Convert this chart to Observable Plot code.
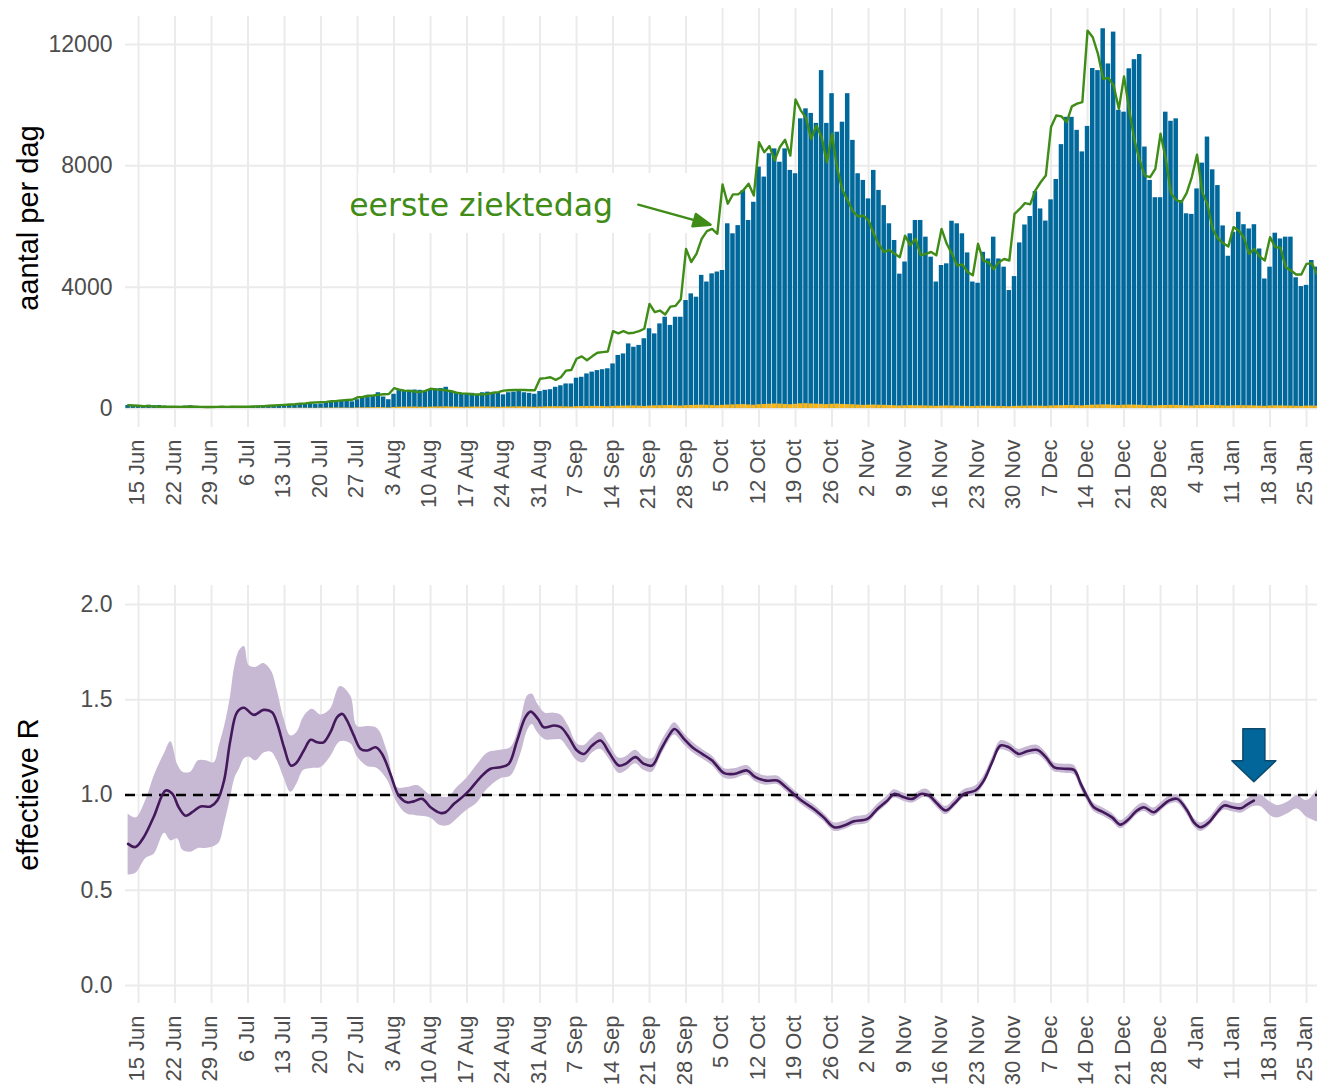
<!DOCTYPE html>
<html>
<head>
<meta charset="utf-8">
<script src="https://cdn.jsdelivr.net/npm/d3@7"></script>
<script src="https://cdn.jsdelivr.net/npm/@observablehq/plot@0.6"></script>
<style>
  html, body { margin: 0; padding: 0; background: #fff; overflow: hidden; }
  #chart svg { display: block; }
</style>
</head>
<body>
<div id="chart"></div>
<script>
// ---------------- DATA ----------------
// daily series start at 13 Jun 2020 (index 0) and run to 27 Jan 2021 (index 228)
const startDay = "2020-06-13";

// reported positive tests per day (blue bars)
const reported = [
  100, 80,
  70, 80, 110, 90, 100, 80, 60,
  50, 70, 80, 90, 70, 60, 50,
  40, 60, 70, 60, 70, 50, 40,
  50, 70, 80, 90, 100, 80, 70,
  90, 120, 130, 140, 160, 150, 130,
  150, 190, 200, 220, 260, 240, 220,
  290, 340, 360, 420, 520, 380, 290,
  470, 590, 590, 600, 610, 600, 560,
  620, 650, 660, 700, 560, 500, 480,
  470, 500, 450, 520, 540, 490, 520,
  450, 520, 540, 560, 520, 500, 470,
  560, 600, 620, 700, 750, 810, 810,
  1000, 1030, 1140, 1200, 1250, 1280, 1310,
  1470, 1750, 1800, 2130, 2020, 2080, 2300,
  2630, 2460, 2790, 3010, 2740, 3010, 3010,
  3560, 3780, 3670, 4390, 4170, 4440, 4500,
  4550, 6090, 5760, 6030, 7190, 6200, 6800,
  7960, 7630, 8400, 8560, 8120, 8560, 7850,
  7740, 9550, 9880, 9730, 9400, 11140, 9400,
  10380, 9110, 9440, 10380, 8840, 7740, 7520,
  6910, 7850, 7190, 6690, 6090, 5540, 4430,
  4830, 5760, 6200, 6200, 5650, 4990, 4170,
  4715, 4770, 6175, 6090, 5760, 5130, 4170,
  4130, 5150, 4930, 5650, 4930, 4660, 3890,
  4350, 5460, 6050, 6330, 7150, 6580, 6180,
  6880, 7550, 8700, 9600, 9600, 9170, 8460,
  9300, 11210, 11140, 12520, 11360, 12410, 9830,
  9770, 11200, 11500, 11670, 8620, 7520, 6950,
  6950, 9770, 9470, 9550, 6860, 6420, 6400,
  7240, 8090, 8950, 7870, 7350, 6020, 5020,
  5810, 6470, 6060, 5920, 6060, 5260, 4270,
  4660, 5780, 5590, 5650, 5650, 4310, 4020,
  4060, 4880, 4660
];

// by first day of illness (green line)
const firstIllness = [
  110, 100,
  90, 80, 80, 70, 60, 60, 60,
  60, 55, 60, 65, 60, 55, 50,
  50, 55, 60, 55, 60, 60, 60,
  60, 65, 70, 80, 90, 100, 110,
  120, 130, 140, 160, 170, 190, 200,
  210, 220, 240, 250, 270, 280, 290,
  370, 380, 420, 430, 450, 470, 480,
  670, 620, 590, 580, 560, 540, 580,
  650, 630, 620, 600, 570, 520, 500,
  490, 470, 460, 470, 480, 520, 540,
  590, 600, 610, 615, 610, 600, 600,
  980, 1000, 1030, 945, 1030, 1250, 1270,
  1640, 1720, 1590, 1720, 1840, 1860, 1880,
  2550, 2480, 2550, 2480, 2500, 2550, 2630,
  3450, 3180, 3230, 3100, 3360, 3385, 3600,
  5260, 4830, 5100, 5590, 5850, 5920, 5760,
  7385, 6750, 7060, 7060, 7200, 7410, 7020,
  8780, 8450, 8650, 8180, 8620, 8860, 8340,
  10190, 9830, 9580, 8890, 9330, 8940, 8120,
  9060, 7900, 7200, 6860, 6500, 6330, 6360,
  6200, 5760, 5400, 5160, 5230, 5100, 4990,
  5700, 5380, 5600, 5050, 5100, 5160, 5050,
  5920, 5430, 5100, 4710, 4750, 4500, 4390,
  5430, 4880, 4820, 4600, 4820, 4930, 4880,
  6420, 6580, 6770, 6730, 7190, 7460, 7680,
  9280, 9660, 9630, 9440, 9960, 10050, 10100,
  12460, 12240, 11690, 10870, 10900, 10650, 9880,
  10950, 9830, 8840, 8180, 7680, 7630, 7900,
  9060, 8230, 7080, 6880, 6800, 7100, 7630,
  8370, 7130, 6730, 5920, 5600, 5450, 5340,
  5980, 5870, 5630, 5100, 5260, 5010, 4880,
  5650, 5320, 5300, 4660, 4550, 4420, 4420,
  4770, 4790, 4440
];

// small yellow series at the base of the bars
const yellowPart = [
  6, 5,
  5, 6, 4, 5, 6, 4, 3,
  4, 5, 6, 5, 4, 3, 3,
  3, 4, 5, 4, 5, 3, 3,
  4, 6, 5, 7, 6, 5, 4,
  8, 10, 9, 12, 11, 10, 8,
  12, 14, 15, 18, 16, 15, 12,
  18, 22, 25, 28, 30, 26, 20,
  35, 42, 45, 48, 50, 44, 38,
  45, 50, 52, 55, 50, 46, 40,
  42, 48, 50, 52, 50, 45, 40,
  45, 50, 52, 55, 52, 48, 42,
  50, 55, 58, 60, 62, 55, 50,
  60, 65, 68, 70, 72, 66, 60,
  70, 75, 80, 82, 85, 78, 70,
  80, 88, 92, 95, 98, 90, 82,
  95, 100, 105, 110, 108, 100, 92,
  105, 115, 120, 125, 130, 118, 110,
  125, 135, 140, 150, 145, 135, 125,
  140, 155, 160, 150, 145, 138, 130,
  140, 145, 135, 130, 125, 115, 105,
  110, 115, 110, 105, 100, 92, 85,
  90, 95, 92, 88, 85, 80, 72,
  80, 85, 82, 78, 75, 70, 65,
  72, 78, 75, 72, 70, 66, 60,
  70, 75, 78, 80, 82, 78, 72,
  85, 90, 95, 98, 100, 95, 88,
  100, 110, 115, 120, 118, 110, 100,
  110, 115, 112, 108, 100, 92, 85,
  95, 100, 105, 102, 95, 88, 82,
  95, 100, 105, 100, 95, 88, 80,
  90, 95, 92, 90, 85, 80, 72,
  85, 88, 85, 82, 80, 75, 70,
  80, 82, 78
];

// effective R: line (days after 13 Jun 2020)
const rDay = [0, 1.4, 3, 4.9, 7.2, 8.5, 9.7, 11, 12.3, 13.9, 15.8, 17.1, 18.4, 19.6, 20.9, 22.2, 24.1, 26, 27.6, 28.6,
  29.9, 31.2, 32.1, 33.7, 35, 36.3, 37.5, 38.8, 40.1, 41.1, 42, 43.3, 44.6, 45.9, 47.5, 48.7, 50.3, 51.9, 53.5, 54.8,
  56.4, 58, 59.9, 60.9, 62.5, 64.4, 65.7, 67.6, 69.5, 71.4, 73, 74.6, 76.2, 77.2, 78.6, 79.7, 81.7, 83, 84.5, 86.1,
  87.4, 89, 90.6, 92.2, 94.1, 95.4, 97.3, 98.9, 100.5, 102.1, 103.7, 104.8, 106.6, 108.2, 110.1, 112, 114.3, 116.2, 118.7, 120.3,
  122.3, 124.5, 125.8, 128, 129.6, 131.5, 133.4, 135.4, 137.3, 139.2, 141.8, 143.7, 145.6, 146.9, 148.8, 150.4, 152, 153.6, 155.2, 156.8,
  158.4, 160.3, 162.5, 164.1, 165.7, 167.3, 168.9, 170.8, 172.4, 174.4, 176, 177.6, 179.5, 181.4, 182.7, 184, 185.2, 186.8, 188.7, 190.3,
  191.6, 193.5, 194.8, 196.7, 198, 199.6, 201.2, 203.1, 204.4, 205.7, 207.3, 208.6, 210.2, 211.8, 213.4, 214.6, 215.9];
const rValue = [0.744, 0.727, 0.779, 0.885, 1.024, 1.006, 0.936, 0.892, 0.91, 0.94, 0.94, 0.971, 1.076, 1.286, 1.435, 1.458, 1.421, 1.447, 1.435, 1.374,
  1.251, 1.155, 1.164, 1.234, 1.29, 1.277, 1.277, 1.33, 1.409, 1.426, 1.391, 1.312, 1.242, 1.234, 1.251, 1.216, 1.111, 0.997, 0.962, 0.967,
  0.98, 0.936, 0.906, 0.91, 0.954, 0.997, 1.033, 1.094, 1.138, 1.146, 1.164, 1.286, 1.409, 1.438, 1.40, 1.356, 1.365, 1.356, 1.304, 1.234,
  1.216, 1.26, 1.286, 1.225, 1.155, 1.164, 1.199, 1.164, 1.155, 1.234, 1.312, 1.347, 1.295, 1.251, 1.216, 1.181, 1.115, 1.111, 1.129, 1.094,
  1.076, 1.076, 1.05, 0.997, 0.962, 0.927, 0.883, 0.831, 0.84, 0.862, 0.875, 0.927, 0.971, 1.006, 0.988, 0.98, 1.006, 0.997, 0.954, 0.919,
  0.954, 1.006, 1.024, 1.076, 1.172, 1.26, 1.251, 1.216, 1.23, 1.237, 1.199, 1.146, 1.138, 1.132, 1.059, 0.988, 0.936, 0.913, 0.883, 0.845,
  0.866, 0.919, 0.936, 0.91, 0.936, 0.971, 0.98, 0.919, 0.857, 0.831, 0.857, 0.901, 0.945, 0.936, 0.931, 0.95, 0.971];

// effective R: uncertainty band
const bandDay = [0, 1.5, 3.5, 5, 7, 8.2, 9.5, 10.5, 12, 13.5, 15, 16.5, 17.5, 18.5, 19.6, 20.5, 21.4, 22.3, 23.2, 24.5,
  26, 27.5, 28.6, 29.9, 31.2, 32.4, 33.7, 35.3, 37, 38.8, 40.7, 42.7, 44, 45.9, 47.8, 49.7, 51.6, 53.5, 55.5, 58,
  59.9, 61.5, 63.1, 65, 67, 68.9, 71.4, 73.4, 75.3, 76.6, 77.5, 78.5, 80, 81.7, 83, 84.5, 86.1, 87.4, 89, 90.6,
  92.2, 94.1, 95.4, 97.3, 98.9, 100.5, 102.1, 103.7, 104.8, 106.6, 108.2, 110.1, 112, 114.3, 116.2, 118.7, 120.3, 122.3, 124.5, 125.8,
  128, 129.6, 131.5, 133.4, 135.4, 137.3, 139.2, 141.8, 143.7, 145.6, 146.9, 148.8, 150.4, 153, 155.2, 156.8, 158.4, 160.3, 162.5, 164.1,
  165.7, 167.3, 168.9, 170.8, 172.4, 174.4, 176, 177.6, 179.5, 181.4, 182.7, 184, 185.2, 186.8, 188.7, 190.3, 191.6, 193.5, 194.8, 196.7,
  198, 199.6, 201.2, 203.1, 204.4, 205.7, 207.3, 208.6, 210.2, 211.8, 213.4, 214.6, 215.9, 217.2, 219.1, 220.4, 222.3, 224.2, 226.1, 228.2];
const bandLow = [0.58, 0.59, 0.67, 0.69, 0.80, 0.76, 0.77, 0.71, 0.70, 0.72, 0.72, 0.73, 0.75, 0.85, 0.98, 1.09, 1.14, 1.19, 1.20, 1.18,
  1.22, 1.225, 1.18, 1.09, 1.015, 1.06, 1.13, 1.14, 1.145, 1.20, 1.28, 1.27, 1.20, 1.15, 1.14, 1.08, 0.96, 0.90, 0.89, 0.88,
  0.84, 0.84, 0.875, 0.92, 0.96, 1.03, 1.085, 1.10, 1.216, 1.338, 1.37, 1.33, 1.29, 1.29, 1.29, 1.24, 1.18, 1.17, 1.22, 1.24,
  1.19, 1.115, 1.125, 1.165, 1.13, 1.12, 1.20, 1.28, 1.315, 1.265, 1.225, 1.19, 1.155, 1.09, 1.085, 1.105, 1.07, 1.052, 1.055, 1.028,
  0.975, 0.94, 0.905, 0.862, 0.81, 0.818, 0.84, 0.852, 0.905, 0.95, 0.985, 0.966, 0.958, 0.988, 0.932, 0.897, 0.932, 0.984, 1.0, 1.052,
  1.148, 1.236, 1.227, 1.192, 1.206, 1.213, 1.175, 1.122, 1.114, 1.108, 1.035, 0.965, 0.914, 0.891, 0.861, 0.823, 0.844, 0.897, 0.914, 0.888,
  0.914, 0.949, 0.958, 0.897, 0.835, 0.809, 0.835, 0.879, 0.921, 0.912, 0.905, 0.922, 0.94, 0.94, 0.892, 0.88, 0.90, 0.927, 0.883, 0.857];
const bandHigh = [0.90, 0.88, 0.98, 1.10, 1.22, 1.28, 1.16, 1.12, 1.12, 1.18, 1.18, 1.17, 1.26, 1.36, 1.51, 1.68, 1.76, 1.78, 1.68, 1.67,
  1.69, 1.65, 1.55, 1.40, 1.31, 1.33, 1.41, 1.45, 1.42, 1.45, 1.57, 1.52, 1.36, 1.36, 1.35, 1.23, 1.04, 1.04, 1.05, 1.00,
  0.99, 0.99, 1.04, 1.09, 1.16, 1.22, 1.235, 1.25, 1.39, 1.52, 1.53, 1.48, 1.43, 1.43, 1.42, 1.36, 1.27, 1.26, 1.30, 1.33,
  1.27, 1.195, 1.20, 1.235, 1.20, 1.19, 1.27, 1.345, 1.38, 1.325, 1.28, 1.24, 1.205, 1.14, 1.138, 1.155, 1.12, 1.10, 1.10, 1.074,
  1.02, 0.985, 0.95, 0.905, 0.855, 0.862, 0.885, 0.898, 0.95, 0.995, 1.028, 1.01, 1.002, 1.032, 0.976, 0.941, 0.976, 1.028, 1.048, 1.10,
  1.196, 1.284, 1.275, 1.24, 1.254, 1.261, 1.223, 1.17, 1.162, 1.156, 1.083, 1.011, 0.958, 0.935, 0.905, 0.867, 0.888, 0.941, 0.958, 0.932,
  0.958, 0.993, 1.002, 0.941, 0.879, 0.853, 0.879, 0.923, 0.969, 0.96, 0.957, 0.978, 1.0, 1.0, 0.962, 0.945, 0.962, 0.997, 0.971, 1.033];

// axis ticks
const tickDates = ["2020-06-15","2020-06-22","2020-06-29","2020-07-06","2020-07-13","2020-07-20","2020-07-27",
  "2020-08-03","2020-08-10","2020-08-17","2020-08-24","2020-08-31","2020-09-07","2020-09-14","2020-09-21","2020-09-28",
  "2020-10-05","2020-10-12","2020-10-19","2020-10-26","2020-11-02","2020-11-09","2020-11-16","2020-11-23","2020-11-30",
  "2020-12-07","2020-12-14","2020-12-21","2020-12-28","2021-01-04","2021-01-11","2021-01-18","2021-01-25"];
const tickLabels = ["15 Jun","22 Jun","29 Jun","6 Jul","13 Jul","20 Jul","27 Jul","3 Aug","10 Aug","17 Aug","24 Aug",
  "31 Aug","7 Sep","14 Sep","21 Sep","28 Sep","5 Oct","12 Oct","19 Oct","26 Oct","2 Nov","9 Nov","16 Nov","23 Nov",
  "30 Nov","7 Dec","14 Dec","21 Dec","28 Dec","4 Jan","11 Jan","18 Jan","25 Jan"];
const countTicks = [0, 4000, 8000, 12000];
const rTicks = [0, 0.5, 1, 1.5, 2];

// annotations (data coordinates: day offset, value)
const illnessLabel = {day: 67.7, value: 6690, text: "eerste ziektedag"};
const illnessPointer = {day: 111.7, value: 6060};
const labelBoxes = [
  {d1: 44.2, d2: 112.7, v1: 5770, v2: 7750},
  {d1: -0.5, d2: 112.7, v1: 12930, v2: 13190}
];
const rArrow = {day: 215.9, value: 1.07};
const rThreshold = 1;

// ---------------- BUILD ----------------
const DAYMS = 864e5;
const t0 = new Date(startDay + "T00:00:00Z").getTime();
const dayDate = (n) => new Date(t0 + n * DAYMS);
const ticks = tickDates.map((s) => new Date(s + "T00:00:00Z"));
const labelOf = new Map(ticks.map((d, i) => [+d, tickLabels[i]]));

const daily = reported.map((v, i) => ({
  date: dayDate(i), x1: dayDate(i - 0.5), x2: dayDate(i + 0.5),
  reported: v, illness: firstIllness[i], yellow: yellowPart[i]
}));
const rLine = rDay.map((d, i) => ({date: dayDate(d), r: rValue[i]}));
const rBand = bandDay.map((d, i) => ({date: dayDate(d), lo: bandLow[i], hi: bandHigh[i]}));

const xDomain = [dayDate(-0.5), dayDate(228.1)];
const FONT = "'Liberation Sans', Arial, Helvetica, sans-serif";
const tickColor = "#4d4d4d";
const gridColor = "#ebebeb";
const blue = "#01689b", green = "#3f8c16", yellow = "#fbb515";
const ribbon = "#c7b9d3", rColor = "#44195c";

const blockArrow = {
  draw(context, l) {
    const sw = 11, hw = 22, hh = 21;
    context.moveTo(-sw, 0);
    context.lineTo(-sw, -(l - hh));
    context.lineTo(-hw, -(l - hh));
    context.lineTo(0, -l);
    context.lineTo(hw, -(l - hh));
    context.lineTo(sw, -(l - hh));
    context.lineTo(sw, 0);
    context.closePath();
  }
};
const pointerArrow = {
  draw(context, l) {
    const hl = 17, hw = 6.5;
    context.moveTo(0, 0);
    context.lineTo(0, -(l - hl + 1));
    context.moveTo(0, -l);
    context.lineTo(-hw, -(l - hl));
    context.lineTo(hw, -(l - hl));
    context.closePath();
  }
};

const topPlot = Plot.plot({
  width: 1317, height: 575,
  marginLeft: 125, marginRight: 0, marginTop: 8, marginBottom: 148,
  style: {fontFamily: FONT, fontSize: "22px", color: tickColor, background: "white", overflow: "hidden"},
  x: {type: "utc", domain: xDomain},
  y: {domain: [-626, 13188]},
  marks: [
    Plot.gridX(ticks, {stroke: gridColor, strokeOpacity: 1, strokeWidth: 2}),
    Plot.gridY(countTicks, {stroke: gridColor, strokeOpacity: 1, strokeWidth: 2}),
    Plot.rect(labelBoxes, {x1: (d) => dayDate(d.d1), x2: (d) => dayDate(d.d2), y1: "v1", y2: "v2", fill: "white"}),
    Plot.rectY(daily, {x1: "x1", x2: "x2", y1: 0, y2: "reported", fill: blue, insetLeft: 0.35, insetRight: 0.35, clip: true}),
    Plot.rectY(daily, {x1: "x1", x2: "x2", y1: 0, y2: "yellow", fill: yellow, insetLeft: 0.35, insetRight: 0.35, clip: true}),
    Plot.line(daily, {x: "date", y: "illness", stroke: green, strokeWidth: 2.4, clip: true}),
    Plot.vector([illnessPointer], {x: (d) => dayDate(d.day), y: "value", length: 75, rotate: 105.5, anchor: "end",
      shape: pointerArrow, stroke: green, fill: green, strokeWidth: 2.4}),
    Plot.text([illnessLabel], {x: (d) => dayDate(d.day), y: "value", text: "text", fill: green, fontSize: 31.5,
      fontFamily: "'DejaVu Sans', Verdana, sans-serif", textAnchor: "middle", lineAnchor: "middle"}),
    Plot.axisX(ticks, {tickFormat: (d) => labelOf.get(+d), tickRotate: -90, tickSize: 0, tickPadding: 12,
      fontSize: 22, label: null, dx: -1.5}),
    Plot.axisY(countTicks, {tickSize: 0, tickPadding: 13, fontSize: 23, label: null, tickFormat: (d) => String(d)}),
    Plot.text(["aantal per dag"], {frameAnchor: "left", dx: -97, rotate: -90, text: (d) => d, fontSize: 29,
      fill: "black", textAnchor: "middle", lineAnchor: "middle"})
  ]
});

const bottomPlot = Plot.plot({
  width: 1317, height: 514,
  marginLeft: 125, marginRight: 0, marginTop: 10, marginBottom: 86,
  style: {fontFamily: FONT, fontSize: "22px", color: tickColor, background: "white", overflow: "hidden"},
  x: {type: "utc", domain: xDomain},
  y: {domain: [-0.094, 2.1]},
  marks: [
    Plot.gridX(ticks, {stroke: gridColor, strokeOpacity: 1, strokeWidth: 2}),
    Plot.gridY(rTicks, {stroke: gridColor, strokeOpacity: 1, strokeWidth: 2}),
    Plot.areaY(rBand, {x: "date", y1: "lo", y2: "hi", fill: ribbon, curve: "catmull-rom", clip: true}),
    Plot.ruleY([rThreshold], {stroke: "black", strokeWidth: 2.6, strokeDasharray: "10,7"}),
    Plot.line(rLine, {x: "date", y: "r", stroke: rColor, strokeWidth: 2.6, curve: "catmull-rom", clip: true}),
    Plot.vector([rArrow], {x: (d) => dayDate(d.day), y: "value", length: 53, rotate: 180, anchor: "end",
      shape: blockArrow, fill: "#03669a", stroke: "#0b4a6c", strokeWidth: 1.5}),
    Plot.axisX(ticks, {tickFormat: (d) => labelOf.get(+d), tickRotate: -90, tickSize: 0, tickPadding: 12,
      fontSize: 22, label: null, dx: -1.5}),
    Plot.axisY(rTicks, {tickSize: 0, tickPadding: 13, fontSize: 23, label: null, tickFormat: d3.format(".1f")}),
    Plot.text(["effectieve R"], {frameAnchor: "left", dx: -97, rotate: -90, text: (d) => d, fontSize: 29,
      fill: "black", textAnchor: "middle", lineAnchor: "middle"})
  ]
});

const chart = document.getElementById("chart");
chart.appendChild(topPlot);
chart.appendChild(bottomPlot);
</script>
</body>
</html>
